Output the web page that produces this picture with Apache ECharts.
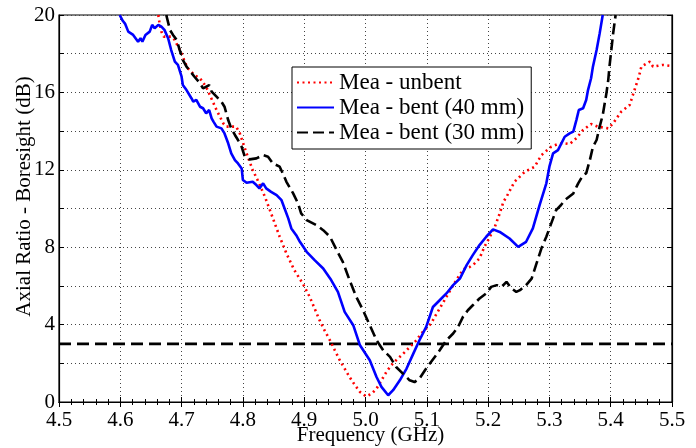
<!DOCTYPE html>
<html>
<head>
<meta charset="utf-8">
<script src="https://cdn.jsdelivr.net/npm/echarts@6/dist/echarts.min.js"></script>
<style>html,body{margin:0;padding:0;background:#fff}#c{width:696px;height:448px}</style>
</head>
<body>
<div id="c"></div>
<script>
// ---- data ----
var xTicks = [4.5,4.6,4.7,4.8,4.9,5.0,5.1,5.2,5.3,5.4,5.5];
var yTicks = [0,4,8,12,16,20];
var seriesNames = ['Mea - unbent','Mea - bent (40 mm)','Mea - bent (30 mm)'];
var arLimit = 3;

var unbentFreq = [4.662,4.664,4.667,4.671,4.683,4.689,4.694,4.700,4.705,4.710,4.721,4.730,4.740,4.746,4.757,4.768,4.773,4.789,4.795,4.806,4.816,4.825,4.836,4.849,4.860,4.871,4.884,4.898,4.909,4.917,4.925,4.933,4.942,4.950,4.958,4.966,4.974,4.983,4.991,5.001,5.010,5.018,5.026,5.034,5.042,5.050,5.059,5.067,5.075,5.083,5.091,5.099,5.107,5.116,5.124,5.132,5.140,5.148,5.157,5.162,5.170,5.178,5.186,5.194,5.203,5.211,5.219,5.225,5.230,5.243,5.260,5.276,5.287,5.303,5.314,5.325,5.333,5.344,5.355,5.368,5.379,5.396,5.404,5.417,5.431,5.437,5.446,5.450,5.464,5.469,5.485,5.496,5.500];
var unbentAR = [20.0,19.57,19.14,18.88,18.88,18.71,18.37,18.02,17.59,17.25,16.90,16.73,16.29,15.87,15.09,14.40,14.23,14.23,13.88,12.85,11.99,11.40,10.60,9.49,8.54,7.68,6.81,6.10,5.43,4.83,4.23,3.71,3.19,2.67,2.16,1.73,1.29,0.86,0.52,0.29,0.43,0.69,1.12,1.55,1.90,2.16,2.42,2.67,2.93,3.19,3.54,3.80,4.06,4.57,5.00,5.43,5.87,6.30,6.73,6.90,6.98,7.16,7.42,8.02,8.54,9.05,9.75,10.35,10.60,11.38,11.90,12.16,12.76,13.19,13.33,13.37,13.33,13.63,14.06,14.37,14.23,14.14,14.40,15.00,15.35,15.95,16.81,17.33,17.59,17.33,17.42,17.38,17.38];

var bent40Freq = [4.599,4.604,4.608,4.613,4.621,4.629,4.633,4.636,4.641,4.648,4.652,4.656,4.662,4.667,4.672,4.678,4.683,4.689,4.694,4.700,4.702,4.708,4.716,4.719,4.724,4.730,4.735,4.740,4.745,4.749,4.752,4.757,4.765,4.770,4.776,4.781,4.787,4.792,4.798,4.800,4.806,4.816,4.822,4.827,4.833,4.838,4.846,4.855,4.863,4.868,4.874,4.879,4.887,4.893,4.904,4.917,4.931,4.944,4.955,4.966,4.980,4.991,5.007,5.018,5.026,5.037,5.045,5.056,5.067,5.078,5.088,5.099,5.110,5.121,5.132,5.143,5.154,5.165,5.175,5.186,5.197,5.208,5.219,5.235,5.249,5.262,5.273,5.284,5.295,5.300,5.306,5.314,5.325,5.333,5.339,5.344,5.348,5.355,5.360,5.363,5.368,5.371,5.377,5.382,5.387];
var bent40AR = [20.0,19.70,19.54,19.14,18.97,18.62,18.80,18.62,18.97,19.14,19.49,19.32,19.49,19.40,19.23,18.80,18.19,17.59,17.42,16.81,16.38,16.12,15.70,15.52,15.61,15.26,15.18,14.92,15.09,14.66,14.49,14.23,14.14,13.88,13.37,12.85,12.50,12.33,12.07,11.47,11.33,11.38,11.21,11.04,11.30,11.04,10.86,10.69,10.43,10.00,9.49,8.97,8.62,8.28,7.76,7.33,6.90,6.30,5.69,4.66,3.97,2.93,2.16,1.29,0.78,0.35,0.61,1.12,1.73,2.50,3.19,3.88,4.91,5.26,5.61,6.04,6.38,7.07,7.59,8.11,8.54,8.92,8.79,8.45,8.02,8.28,8.97,10.18,11.30,12.16,12.85,13.02,13.71,13.88,13.97,14.57,15.09,15.18,15.61,16.12,16.73,17.33,18.19,19.05,20.0];

var bent30Freq = [4.675,4.681,4.686,4.692,4.697,4.702,4.708,4.721,4.730,4.735,4.745,4.749,4.757,4.765,4.770,4.776,4.781,4.787,4.792,4.798,4.803,4.811,4.822,4.833,4.841,4.849,4.860,4.865,4.871,4.882,4.890,4.895,4.904,4.920,4.931,4.942,4.953,4.963,4.974,4.985,4.996,5.007,5.018,5.029,5.040,5.050,5.061,5.072,5.080,5.088,5.097,5.105,5.113,5.121,5.132,5.143,5.151,5.159,5.167,5.175,5.186,5.197,5.205,5.214,5.222,5.230,5.238,5.246,5.252,5.262,5.271,5.279,5.287,5.295,5.303,5.311,5.319,5.325,5.339,5.347,5.355,5.360,5.366,5.371,5.377,5.382,5.387,5.393,5.396,5.398,5.401,5.404,5.408];
var bent30AR = [20.0,19.23,18.97,18.71,18.19,17.68,17.33,16.81,16.47,16.21,16.38,16.04,15.78,15.52,15.26,14.57,14.14,13.80,13.54,13.19,12.68,12.54,12.59,12.76,12.68,12.33,12.16,11.82,11.38,10.78,10.26,9.75,9.40,9.14,8.88,8.54,7.85,7.24,6.30,5.43,4.74,3.97,3.19,2.67,2.33,1.81,1.47,1.12,1.03,1.21,1.64,1.99,2.33,2.67,3.19,3.54,3.88,4.40,4.74,5.00,5.35,5.61,5.95,6.04,5.95,6.21,5.87,5.69,5.78,6.04,6.38,7.16,7.94,8.54,9.23,9.92,10.18,10.43,10.78,11.30,11.73,11.82,12.50,13.19,13.54,14.23,14.83,15.95,16.64,17.33,18.19,19.05,20.0];

function pairs(xs, ys){ return xs.map(function(x,i){ return [x, ys[i]]; }); }

var FONT = '"Liberation Serif","Times New Roman",serif';
var chart = echarts.init(document.getElementById('c'), null, {renderer:'canvas'});

var xMin = xTicks[0], xMax = xTicks[xTicks.length-1];
var yMin = yTicks[0], yMax = yTicks[yTicks.length-1];

var option = {
  animation:false,
  backgroundColor:'#fff',
  grid:{left:59, top:15, right:24, bottom:46, outerBoundsMode:'none', containLabel:false,
        show:true, borderColor:'#000', borderWidth:1.2, backgroundColor:'transparent'},
  legend:{
    data:seriesNames,
    orient:'vertical',
    left:292, top:67,
    backgroundColor:'#fff',
    borderColor:'#000', borderWidth:1,
    padding:[3,7,4,4],
    itemGap:0,
    itemWidth:37, itemHeight:14,
    itemStyle:{opacity:0},
    textStyle:{fontFamily:FONT, fontSize:23, color:'#000', lineHeight:25}
  },
  xAxis:[{
    type:'value', min:xMin, max:xMax, interval:0.1,
    axisLine:{show:true, lineStyle:{color:'#000', width:1.2}},
    axisTick:{show:true, inside:true, length:5, lineStyle:{color:'#000'}},
    minorTick:{show:true, splitNumber:5, length:3, lineStyle:{color:'#000'}},
    axisLabel:{fontFamily:FONT, fontSize:21, color:'#000', margin:8,
      formatter:function(v){ return v.toFixed(1); }},
    splitLine:{show:true, lineStyle:{color:'#444', type:[1,3], width:1}},
    name:'Frequency (GHz)', nameLocation:'middle', nameGap:23, nameMoveOverlap:false,
    nameTextStyle:{fontFamily:FONT, fontSize:21, color:'#000', padding:[0,0,0,10]}
  },{
    type:'value', min:xMin, max:xMax, interval:0.1, position:'top',
    axisLine:{show:true, lineStyle:{color:'#000', width:1.2}},
    axisTick:{show:true, inside:true, length:5, lineStyle:{color:'#000'}},
    minorTick:{show:true, splitNumber:5, length:3, lineStyle:{color:'#000'}},
    axisLabel:{show:false}, splitLine:{show:false}
  }],
  yAxis:[{
    type:'value', min:yMin, max:yMax, interval:2,
    axisLine:{show:true, lineStyle:{color:'#000', width:1.2}},
    axisTick:{show:true, inside:true, length:5, lineStyle:{color:'#000'}},
    axisLabel:{fontFamily:FONT, fontSize:21, color:'#000', margin:4,
      formatter:function(v){ return yTicks.indexOf(v) >= 0 ? String(v) : ''; }},
    splitLine:{show:true, lineStyle:{color:'#444', type:[1,3], width:1}},
    name:'Axial Ratio - Boresight (dB)', nameLocation:'middle', nameGap:24, nameMoveOverlap:false,
    nameTextStyle:{fontFamily:FONT, fontSize:21, color:'#000', padding:[0,0,0,24]}
  },{
    type:'value', min:yMin, max:yMax, interval:2, position:'right',
    axisLine:{show:true, lineStyle:{color:'#000', width:1.2}},
    axisTick:{show:true, inside:true, length:5, lineStyle:{color:'#000'}},
    axisLabel:{show:false}, splitLine:{show:false}
  }],
  series:[
    {name:seriesNames[0], type:'line', data:pairs(unbentFreq, unbentAR), showSymbol:false, symbol:'none',
     clip:true, z:3, lineStyle:{color:'#ff0000', width:2.6, type:[2,3.5]}, itemStyle:{color:'#ff0000'}},
    {name:seriesNames[1], type:'line', data:pairs(bent40Freq, bent40AR), showSymbol:false, symbol:'none',
     clip:true, z:4, lineStyle:{color:'#0000ff', width:2.6, type:'solid'}, itemStyle:{color:'#0000ff'}},
    {name:seriesNames[2], type:'line', data:pairs(bent30Freq, bent30AR), showSymbol:false, symbol:'none',
     clip:true, z:5, lineStyle:{color:'#000000', width:2.6, type:[11,5]}, itemStyle:{color:'#000'}},
    {name:'limit', type:'line', data:[[xMin, arLimit],[xMax, arLimit]], showSymbol:false, symbol:'none',
     silent:true, z:2, lineStyle:{color:'#000', width:2.8, type:[12,6]}}
  ]
};
chart.setOption(option);
</script>
</body>
</html>
